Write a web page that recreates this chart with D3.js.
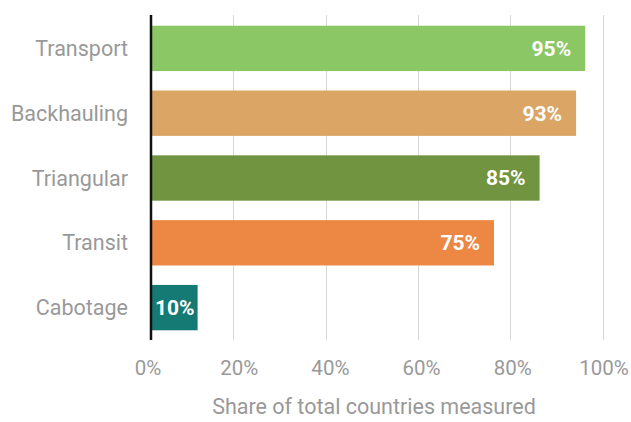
<!DOCTYPE html>
<html>
<head>
<meta charset="utf-8">
<script src="https://cdn.jsdelivr.net/npm/d3@7"></script>
<style>
  html, body { margin: 0; padding: 0; background: #ffffff; }
  svg { display: block; font-family: Roboto, "Noto Sans", sans-serif; }
</style>
</head>
<body>
<svg id="chart" width="631" height="422"></svg>
<script>
const categories = ["Transport", "Backhauling", "Triangular", "Transit", "Cabotage"];
const values = [95, 93, 85, 75, 10];
const valueLabels = ["95%", "93%", "85%", "75%", "10%"];
const barColors = ["#8bc764", "#dba566", "#719441", "#ec8843", "#157a73"];
const tickValues = [0, 20, 40, 60, 80, 100];
const tickLabels = ["0%", "20%", "40%", "60%", "80%", "100%"];
const axisTitle = "Share of total countries measured";

const svg = d3.select("#chart");

const x = d3.scaleLinear().domain([0, 100]).range([152, 608]);
const gridX = d3.scaleLinear().domain([0, 100]).range([141, 602.5]);
const y = d3.scaleBand().domain(categories).range([16, 340]).paddingInner(0.3).paddingOuter(0.15);

// gridlines
svg.append("g").selectAll("line")
  .data(tickValues.filter(t => t > 0))
  .join("line")
  .attr("x1", d => Math.round(gridX(d)) + 0.5)
  .attr("x2", d => Math.round(gridX(d)) + 0.5)
  .attr("y1", 15).attr("y2", 340)
  .attr("stroke", "#d6d6d6").attr("stroke-width", 1);

// bars
svg.append("g").selectAll("rect")
  .data(values)
  .join("rect")
  .attr("x", x(0))
  .attr("y", (d, i) => y(categories[i]))
  .attr("width", d => x(d) - x(0))
  .attr("height", y.bandwidth())
  .attr("fill", (d, i) => barColors[i]);

// value labels
const vl = svg.append("g").selectAll("text")
  .data(values)
  .join("text")
  .attr("y", (d, i) => y(categories[i]) + y.bandwidth() / 2)
  .attr("dy", "0.35em")
  .attr("fill", "#ffffff")
  .attr("font-weight", "bold")
  .attr("font-size", "21px")
  .text((d, i) => valueLabels[i]);
vl.each(function(d) {
  const t = d3.select(this);
  const w = this.getComputedTextLength();
  const bw = x(d) - x(0);
  if (bw < w + 28) {
    t.attr("x", x(0) + bw / 2).attr("text-anchor", "middle");
  } else {
    t.attr("x", x(d) - 14).attr("text-anchor", "end");
  }
});

// category axis line
svg.append("line")
  .attr("x1", x(0) - 1).attr("x2", x(0) - 1)
  .attr("y1", 15).attr("y2", 340)
  .attr("stroke", "#111111").attr("stroke-width", 2.5);

// category labels
svg.append("g").selectAll("text")
  .data(categories)
  .join("text")
  .attr("x", x(0) - 24)
  .attr("y", d => y(d) + y.bandwidth() / 2)
  .attr("dy", "0.35em")
  .attr("text-anchor", "end")
  .attr("fill", "#999999")
  .attr("font-size", "21.5px")
  .text(d => d);

// x tick labels
svg.append("g").selectAll("text")
  .data(tickValues)
  .join("text")
  .attr("x", d => x(d) - 4)
  .attr("y", 375)
  .attr("text-anchor", "middle")
  .attr("fill", "#999999")
  .attr("font-size", "20.5px")
  .text((d, i) => tickLabels[i]);

// axis title
svg.append("text")
  .attr("x", 374)
  .attr("y", 414)
  .attr("text-anchor", "middle")
  .attr("fill", "#999999")
  .attr("font-size", "21.5px")
  .text(axisTitle);
</script>
</body>
</html>
